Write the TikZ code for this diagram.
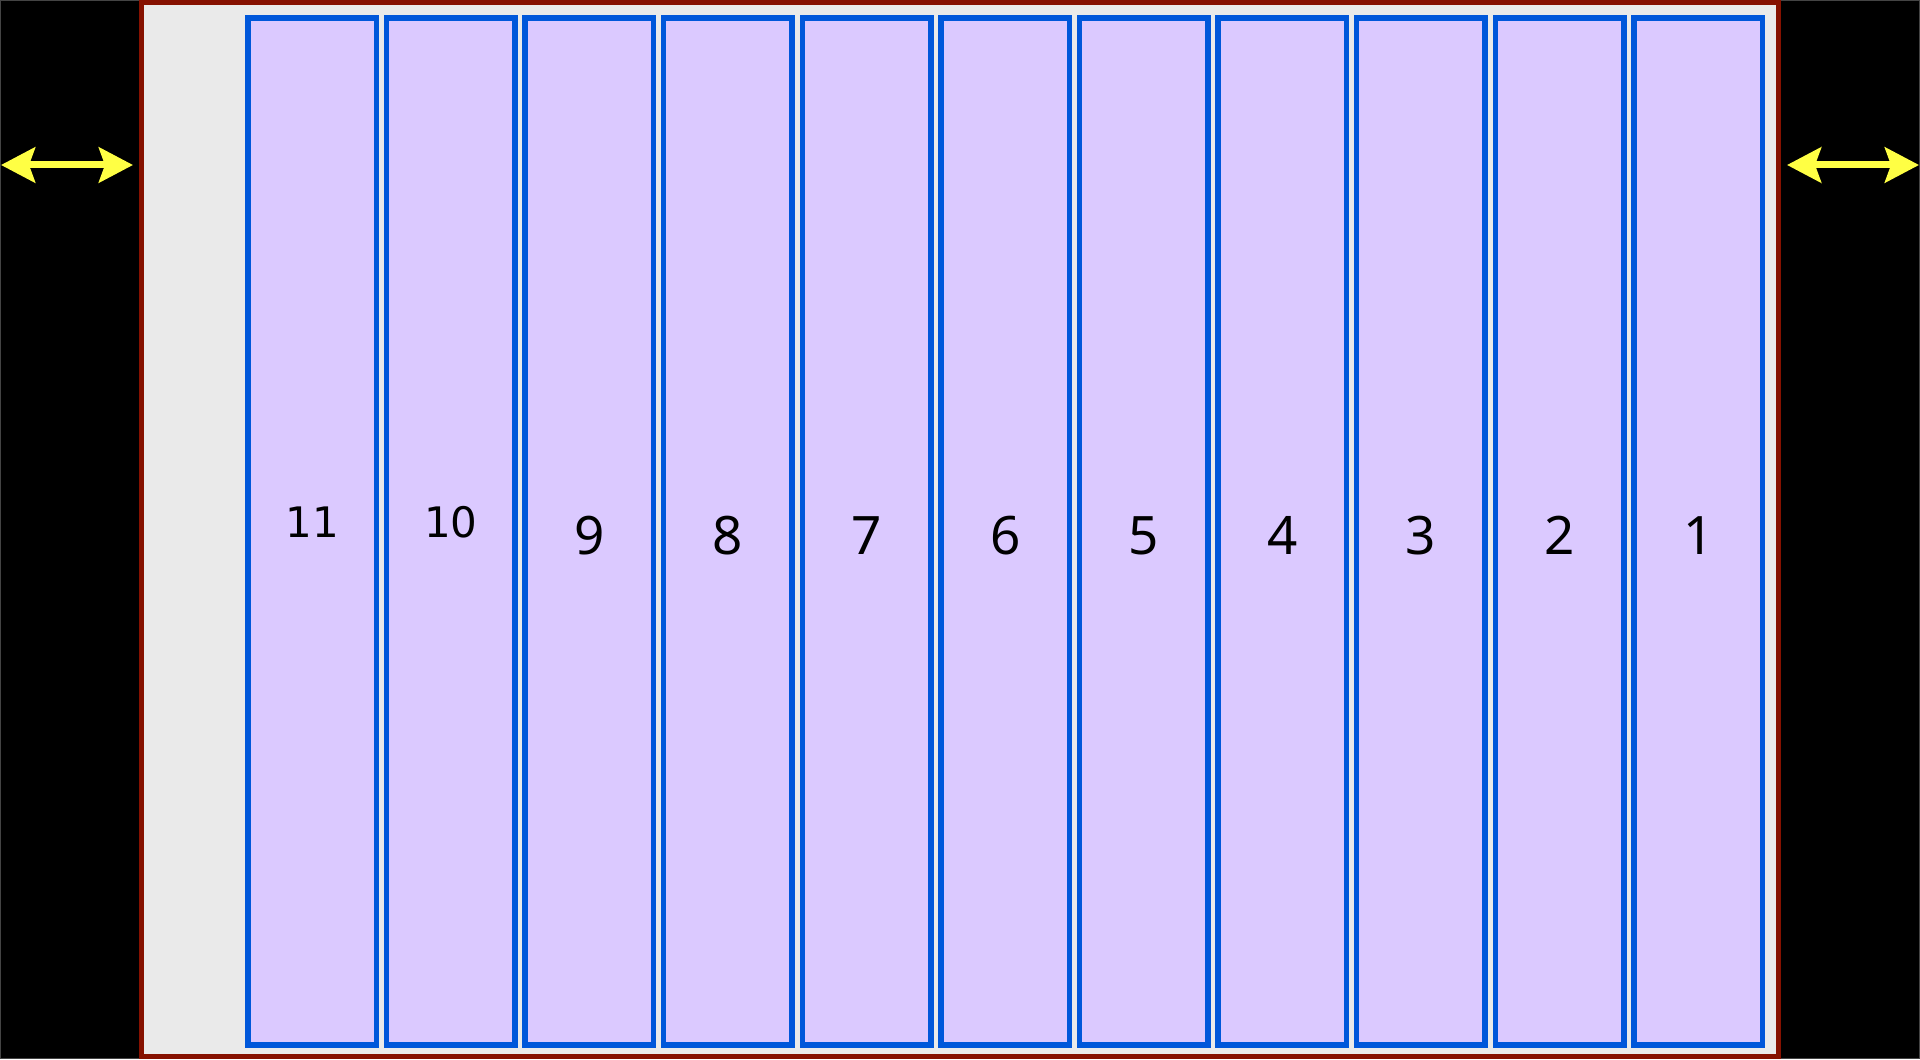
\documentclass[tikz,border=0pt]{standalone}
\usepackage{fontspec}
\newfontfamily\digitfont{Noto Sans}
\newfontfamily\dvfont{DejaVu Sans}
\usetikzlibrary{arrows.meta}
\definecolor{bgblack}{HTML}{000000}
\definecolor{edgegray}{HTML}{444444}
\definecolor{panelgray}{HTML}{EAEAEA}
\definecolor{framered}{HTML}{861100}
\definecolor{slotfill}{HTML}{DBC9FF}
\definecolor{slotblue}{HTML}{0057DA}
\definecolor{arrowyellow}{HTML}{FFFF44}
\tikzset{
  slot/.style={draw=slotblue, fill=slotfill, line width=2.75pt, rectangle, inner sep=0pt,
    minimum width=64.25pt, minimum height=513.5pt},
  numlabel/.style={font=\digitfont\fontsize{26.5pt}{26.5pt}\selectfont, text=black, inner sep=0pt},
  numlabelsmall/.style={font=\dvfont\fontsize{21pt}{21pt}\selectfont, text=black, inner sep=0pt},
  yarrow/.style={draw=arrowyellow, line width=3.5pt,
    {Stealth[length=17pt,width=17.5pt,inset=3pt,fill=arrowyellow]}-{Stealth[length=17pt,width=17.5pt,inset=3pt,fill=arrowyellow]}}
}
\begin{document}
\begin{tikzpicture}[x=0.5pt,y=-0.5pt]
  \fill[bgblack] (0,0) rectangle (1920,1059);
  \useasboundingbox (0,0) rectangle (1920,1059);
  \draw[edgegray, line width=0.7pt] (0.7,0.7) rectangle (1919.3,1058.3);
  \draw[framered, fill=panelgray, line width=2.5pt] (141,2.5) rectangle (1778.5,1056.5);
  \foreach \i [evaluate=\i as \n using int(11-\i)] in {0,...,10} {
    \node[slot] (s\n) at ({312.15+\i*138.6},531.3) {};
  }
  \foreach \n in {1,...,9} {
    \node[numlabel] (l\n) at ([yshift=-2.15pt]s\n.center) {\n};
  }
  \node[numlabelsmall] (l10) at ([yshift=4.6pt]s10.center) {10};
  \node[numlabelsmall] (l11) at ([yshift=4.6pt]s11.center) {11};
  \coordinate (la) at (1,165);
  \coordinate (lb) at (133,165);
  \coordinate (ra) at (1787,165);
  \coordinate (rb) at (1919,165);
  \draw[yarrow] (la) -- (lb);
  \draw[yarrow] (ra) -- (rb);
\end{tikzpicture}
\end{document}
